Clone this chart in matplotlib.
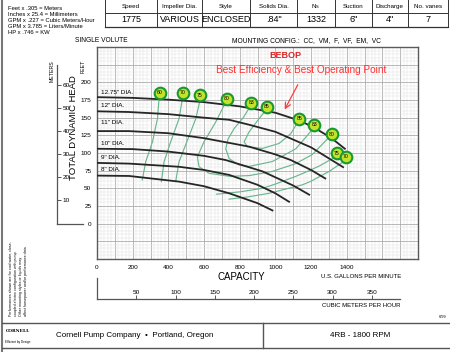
import numpy as np
import matplotlib
matplotlib.use("Agg")
import matplotlib.pyplot as plt

# ---- data (capacity in US GPM, head in feet) ----
dia_labels = ['12.75" DIA.', '12" DIA.', '11" DIA.', '10" DIA.', '9" DIA.', '8" DIA.']
dia_label_head = [185, 167, 142.5, 114, 94, 77]

q_1275 = [0, 200, 400, 600, 800, 1000, 1134, 1218, 1315, 1390]
h_1275 = [179, 178, 175.5, 172, 166, 157, 146, 136, 121, 106]
q_12 = [0, 180, 400, 600, 741, 853, 1000, 1200, 1380]
h_12 = [159, 158, 155, 150, 147, 140, 130, 108, 80]
q_11 = [0, 180, 400, 600, 853, 1000, 1087, 1200, 1280]
h_11 = [131, 131, 128, 121, 109, 98, 90, 76, 64]
q_10 = [0, 200, 400, 600, 722, 928, 1100, 1190]
h_10 = [106, 105.5, 102, 96, 90, 74, 54, 41]
q_9 = [0, 180, 460, 600, 741, 900, 1000, 1077]
h_9 = [86, 85, 80.5, 76, 69, 55, 43, 31]
q_8 = [0, 180, 460, 600, 741, 900, 984]
h_8 = [68, 67.5, 59.5, 53, 43, 29, 18.7]

# efficiency contours
e60_q = [348, 339, 311, 273, 254]
e60_h = [177, 148.6, 115.8, 87.6, 62]
e70l_q = [479, 460, 413, 376, 361]
e70l_h = [177, 148.6, 115.8, 87.6, 59.5]
e75l_q = [578, 554, 507, 460, 441]
e75l_h = [175, 148.6, 118, 87.6, 59.5]
e80_q = [722, 666, 600, 563, 572, 628, 741, 853, 984, 1115, 1208, 1293]
e80_h = [172, 144, 115.8, 94.7, 80.6, 71.3, 67, 68, 74, 85, 98, 120]
e83_q = [862, 820, 770, 735, 722, 741, 797, 853, 984, 1115, 1190, 1215]
e83_h = [167, 150, 135, 120, 106, 92, 83, 81, 88, 106, 128, 136]
e85_q = [945, 909, 853, 825, 844, 928, 1021, 1087, 1124]
e85_h = [160, 148.6, 130, 115.8, 108.7, 106.5, 113.5, 127.5, 143]
e75r_q = [1340, 1250, 1171, 1115, 1000, 928, 800, 670]
e75r_h = [95, 82, 73, 67, 56, 50, 45, 41.7]
e70r_q = [1390, 1302, 1200, 1152, 965, 850, 741]
e70r_h = [89, 74, 60, 55, 43, 38, 34.7]

eff_vals = [60, 70, 75, 80, 83, 85, 85, 83, 80, 75, 70]
eff_q = [353, 483, 578, 728, 866, 952, 1134, 1218, 1315, 1345, 1395]
eff_h = [185, 185, 181.5, 177, 171, 165.5, 148.6, 140, 126.5, 99.5, 94.6]

gpm_ticks = [0, 200, 400, 600, 800, 1000, 1200, 1400]
feet_ticks = [0, 25, 50, 75, 100, 125, 150, 175, 200]
meter_ticks = [10, 20, 30, 40, 50, 60]
m3h_ticks = [50, 100, 150, 200, 250, 300, 350]

table_head = ["Speed", "Impeller Dia.", "Style", "Solids Dia.", r"N$_\mathrm{S}$",
              "Suction", "Discharge", "No. vanes"]
table_vals = ["1775", "VARIOUS", "ENCLOSED", '.84"', "1332", '6"', '4"', "7"]

conversions = ["Feet x .305 = Meters", "Inches x 25.4 = Millimeters",
               "GPM x .227 = Cubic Meters/Hour", "GPM x 3.785 = Liters/Minute",
               "HP x .746 = KW"]

W, H = 450, 352
plt.rcParams['font.family'] = ['Liberation Sans', 'DejaVu Sans']
fig = plt.figure(figsize=(W / 100, H / 100), dpi=100)


def fx(x):
    return x / W


def fy(y):
    return 1 - y / H


def hline(x0, x1, y, **kw):
    fig.add_artist(plt.Line2D([fx(x0), fx(x1)], [fy(y), fy(y)], **kw))


def vline(x, y0, y1, **kw):
    fig.add_artist(plt.Line2D([fx(x), fx(x)], [fy(y0), fy(y1)], **kw))


# ---- main chart ----
ax = fig.add_axes([fx(97), fy(259), (418 - 97) / W, (259 - 47) / H])
ax.set_xlim(0, 1800)
ax.set_ylim(-50, 250)
ax.set_xticks(np.arange(0, 1801, 100))
ax.set_xticklabels([str(v) if v in gpm_ticks else "" for v in range(0, 1801, 100)])
ax.set_yticks(np.arange(-50, 251, 25))
ax.set_yticklabels([str(v) if v in feet_ticks else "" for v in range(-50, 251, 25)])
ax.set_xticks(np.arange(0, 1801, 20), minor=True)
ax.set_yticks(np.arange(-50, 251, 5), minor=True)
ax.tick_params(which='both', length=0, labelsize=4.6, pad=4)
ax.grid(which='major', color='#acacac', lw=0.6)
ax.grid(which='minor', color='#e0e0e0', lw=0.35)
ax.set_axisbelow(True)
for s in ax.spines.values():
    s.set_color('#5a5a5a')
    s.set_linewidth(1.0)

green = '#6cb68e'
for qq, hh in [(e60_q, e60_h), (e70l_q, e70l_h), (e75l_q, e75l_h), (e80_q, e80_h),
               (e83_q, e83_h), (e85_q, e85_h), (e75r_q, e75r_h), (e70r_q, e70r_h)]:
    ax.plot(qq, hh, color=green, lw=0.85, zorder=2)

for qq, hh in [(q_1275, h_1275), (q_12, h_12), (q_11, h_11), (q_10, h_10),
               (q_9, h_9), (q_8, h_8)]:
    ax.plot(qq, hh, color='#262626', lw=1.3, zorder=3)

for lab, hh in zip(dia_labels, dia_label_head):
    ax.text(25, hh, lab, fontsize=4.6, va='center', ha='left', zorder=4)

ax.scatter(eff_q, eff_h, s=70, c='#c3e22c', edgecolors='#169a30', linewidths=1.5, zorder=5)
for v, qq, hh in zip(eff_vals, eff_q, eff_h):
    ax.text(qq, hh, str(v), fontsize=3.7, ha='center', va='center', zorder=6)

ax.annotate("", xy=(1045, 158), xytext=(1133, 200),
            arrowprops=dict(arrowstyle='->', color='#ff3b3b', lw=0.9))

# ---- meters axis ----
ax3 = fig.add_axes([fx(57), fy(259), 26 / W, (259 - 47) / H])
ax3.set_ylim(-50 * 0.3048, 250 * 0.3048)
ax3.set_xlim(0, 1)
ax3.patch.set_visible(False)
ax3.spines['left'].set_visible(False)
ax3.spines['top'].set_visible(False)
ax3.spines['right'].set_position(('axes', 0))
ax3.spines['right'].set_bounds(0, 68.6)
ax3.spines['bottom'].set_position(('data', 0))
for s in ('right', 'bottom'):
    ax3.spines[s].set_color('#555555')
    ax3.spines[s].set_linewidth(0.9)
ax3.yaxis.tick_right()
ax3.set_yticks(meter_ticks)
ax3.set_xticks([])
ax3.tick_params(axis='y', direction='out', length=3, width=0.7, labelsize=4.6, pad=1,
                color='#555555')

# ---- cubic meters per hour axis ----
ax2 = fig.add_axes([fx(97), fy(299), (418 - 97) / W, 21 / H])
ax2.set_xlim(0, 1800 * 0.22712)
ax2.patch.set_visible(False)
ax2.spines['top'].set_visible(False)
ax2.spines['right'].set_visible(False)
ax2.spines['bottom'].set_bounds(0, 386)
for s in ('left', 'bottom'):
    ax2.spines[s].set_color('#555555')
    ax2.spines[s].set_linewidth(0.9)
ax2.set_yticks([])
ax2.set_xticks(m3h_ticks)
ax2.tick_params(axis='x', direction='in', length=3, width=0.7, labelsize=4.6, pad=-6.5,
                color='#555555')

# ---- texts around the chart ----
fig.text(fx(241), fy(277), "CAPACITY", fontsize=7, ha='center', va='center')
fig.text(fx(401), fy(277), "U.S. GALLONS PER MINUTE", fontsize=4.3, ha='right', va='center')
fig.text(fx(401), fy(305.5), "CUBIC METERS PER HOUR", fontsize=4.3, ha='right', va='center')
fig.text(fx(74), fy(128), "TOTAL DYNAMIC HEAD", fontsize=6.8, rotation=90,
         ha='center', va='center')
fig.text(fx(52), fy(60), "METERS", fontsize=3.8, rotation=90, ha='center', va='top')
fig.text(fx(83), fy(60), "FEET", fontsize=3.8, rotation=90, ha='center', va='top')
fig.text(fx(75), fy(41), "SINGLE VOLUTE", fontsize=4.8, ha='left', va='center')
fig.text(fx(232), fy(41), "MOUNTING CONFIG.:  CC,  VM,  F,  VF,  EM,  VC", fontsize=4.8,
         ha='left', va='center')
fig.text(fx(285), fy(55), "BEBOP", fontsize=6.5, fontweight='bold', color='#e02424',
         ha='center', va='center')
fig.text(fx(301), fy(70), "Best Efficiency & Best Operating Point", fontsize=7.2,
         color='#ff3030', ha='center', va='center',
         family=['Liberation Sans Narrow', 'Liberation Sans', 'DejaVu Sans'])

for i, line in enumerate(conversions):
    fig.text(fx(8), fy(9 + i * 6), line, fontsize=4.2, ha='left', va='center')

# ---- header table ----
col_edges = [105, 157, 202, 250, 297, 335, 372, 408, 448]
lc = '#333333'
hline(105, 448, 13.3, color=lc, lw=0.7)
hline(105, 448, 26.7, color=lc, lw=0.9)
for x in col_edges:
    vline(x, 0, 26.7, color=lc, lw=0.7)
for i in range(len(table_head)):
    xc = (col_edges[i] + col_edges[i + 1]) / 2
    fig.text(fx(xc), fy(6.8), table_head[i], fontsize=4.5, ha='center', va='center')
    fig.text(fx(xc), fy(20), table_vals[i], fontsize=6.5, ha='center', va='center')

# ---- page frame and footer ----
vline(2, 0, 352, color='#777777', lw=1.5)
hline(2, 450, 322.7, color='#555555', lw=1.0)
hline(2, 450, 347.5, color='#555555', lw=1.0)
vline(263, 322.7, 347.5, color='#555555', lw=1.0)
fig.text(fx(135), fy(335.5), "Cornell Pump Company  \u2022  Portland, Oregon", fontsize=5.8,
         ha='center', va='center')
fig.text(fx(360), fy(335.5), "4RB - 1800 RPM", fontsize=5.8, ha='center', va='center')
fig.text(fx(443), fy(317), "6/99", fontsize=2.8, ha='center', va='center')
fig.text(fx(18), fy(331), "CORNELL", fontsize=3.2, fontweight='bold', family='serif',
         ha='center', va='center')
fig.text(fx(18), fy(342), "Efficient by Design", fontsize=2.2, ha='center', va='center')

notes = ["Performances shown are for cool water, close-",
         "coupled electric configuration with pump",
         "Other mounting styles or liquids may",
         "affect horsepower and/or performance data"]
for i, line in enumerate(notes):
    fig.text(fx(11 + i * 5), fy(316), line, fontsize=2.6, rotation=90, ha='center',
             va='bottom')

fig.savefig("out.png", dpi=100)
